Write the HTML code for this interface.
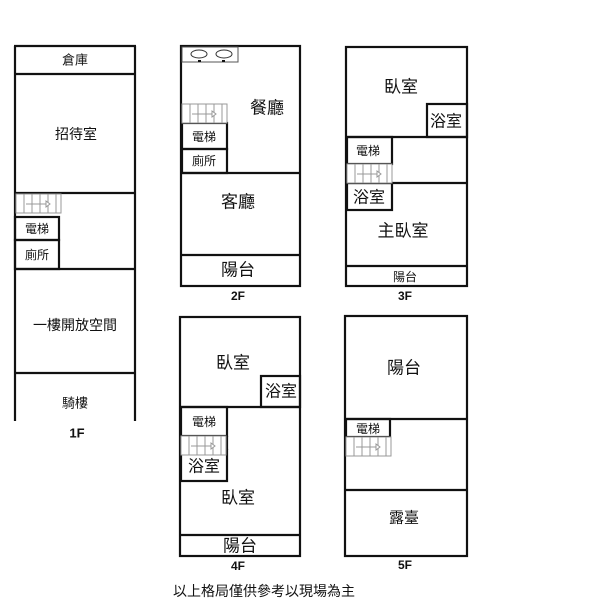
<!DOCTYPE html>
<html><head><meta charset="utf-8"><style>
html,body{margin:0;padding:0;background:#fff;width:600px;height:600px;overflow:hidden}
svg{display:block}
text{font-family:"Liberation Sans","Noto Sans CJK TC",sans-serif;fill:#111;text-anchor:middle;dominant-baseline:central}
.b{font-weight:bold}
</style></head><body>
<svg width="600" height="600" viewBox="0 0 600 600" xmlns="http://www.w3.org/2000/svg">
<defs>
<g id="st">
<rect x="0" y="0" width="45" height="19" fill="#fff" stroke="#999" stroke-width="1"/>
<g stroke="#999" stroke-width="1">
<line x1="8" y1="0" x2="8" y2="19"/><line x1="16" y1="0" x2="16" y2="19"/><line x1="24" y1="0" x2="24" y2="19"/><line x1="32" y1="0" x2="32" y2="19"/><line x1="40" y1="0" x2="40" y2="19"/>
<line x1="10" y1="10" x2="30" y2="10"/>
<polygon points="30,7 34,10 30,13" fill="#fff"/>
</g>
</g>
</defs>
<g fill="none" stroke="#111" stroke-width="2.2">
<!-- 1F -->
<line x1="15" y1="46" x2="15" y2="421"/><line x1="135" y1="46" x2="135" y2="421"/>
<line x1="14" y1="46" x2="136" y2="46"/><line x1="14" y1="74" x2="136" y2="74"/>
<line x1="14" y1="193" x2="136" y2="193"/>
<rect x="15" y="217" width="44" height="23"/><rect x="15" y="240" width="44" height="29"/>
<line x1="14" y1="269" x2="136" y2="269"/><line x1="14" y1="373" x2="136" y2="373"/>
<!-- 2F -->
<rect x="181" y="46" width="119" height="240"/>
<rect x="182" y="123" width="45" height="26"/><rect x="182" y="149" width="45" height="24"/>
<line x1="181" y1="173" x2="300" y2="173"/><line x1="181" y1="255" x2="300" y2="255"/>
<!-- 3F -->
<rect x="346" y="47" width="121" height="239"/>
<rect x="427" y="104" width="40" height="33"/>
<line x1="346" y1="137" x2="467" y2="137"/>
<rect x="347" y="137" width="45" height="27"/>
<line x1="346" y1="183" x2="467" y2="183"/>
<rect x="347" y="183" width="45" height="27"/>
<line x1="346" y1="266" x2="467" y2="266"/>
<!-- 4F -->
<rect x="180" y="317" width="120" height="239"/>
<rect x="261" y="376" width="39" height="31"/>
<line x1="180" y1="407" x2="300" y2="407"/>
<rect x="181" y="407" width="46" height="29"/>
<rect x="181" y="450" width="46" height="31"/>
<line x1="227" y1="436" x2="227" y2="450"/>
<line x1="180" y1="535" x2="300" y2="535"/>
<!-- 5F -->
<rect x="345" y="316" width="122" height="240"/>
<line x1="345" y1="419" x2="467" y2="419"/>
<rect x="346" y="419" width="44" height="18"/>
<line x1="345" y1="490" x2="467" y2="490"/>
</g>
<!-- stairs -->
<use href="#st" x="16" y="194"/>
<use href="#st" x="182" y="104"/>
<use href="#st" x="347" y="164"/>
<use href="#st" x="181" y="436" transform="translate(0,0)"/>
<use href="#st" x="346" y="437" transform="translate(0,0)"/>
<!-- stove -->
<rect x="182" y="47" width="56" height="15" fill="#fff" stroke="#555" stroke-width="1"/>
<g fill="none" stroke="#333" stroke-width="1">
<ellipse cx="199" cy="54" rx="8" ry="4"/><ellipse cx="224" cy="54" rx="8" ry="4"/>
</g>
<rect x="198" y="60" width="3" height="2" fill="#111"/><rect x="222" y="60" width="3" height="2" fill="#111"/>
<!-- labels -->
<text x="75" y="60" font-size="13">倉庫</text>
<text x="76" y="134" font-size="14">招待室</text>
<text x="37" y="229" font-size="12">電梯</text>
<text x="37" y="255" font-size="12">廁所</text>
<text x="75" y="325" font-size="14">一樓開放空間</text>
<text x="75" y="403" font-size="13">騎樓</text>
<text x="77" y="433" font-size="13" class="b">1F</text>

<text x="267" y="108" font-size="17">餐廳</text>
<text x="204" y="137" font-size="12">電梯</text>
<text x="204" y="161" font-size="12">廁所</text>
<text x="238" y="202" font-size="17">客廳</text>
<text x="238" y="270" font-size="17">陽台</text>
<text x="238" y="296" font-size="12" class="b">2F</text>

<text x="401" y="87" font-size="17">臥室</text>
<text x="446" y="122" font-size="16">浴室</text>
<text x="368" y="151" font-size="12">電梯</text>
<text x="369" y="198" font-size="16">浴室</text>
<text x="403" y="231" font-size="17">主臥室</text>
<text x="405" y="277" font-size="12">陽台</text>
<text x="405" y="296" font-size="12" class="b">3F</text>

<text x="233" y="363" font-size="17">臥室</text>
<text x="281" y="392" font-size="16">浴室</text>
<text x="204" y="422" font-size="12">電梯</text>
<text x="204" y="467" font-size="16">浴室</text>
<text x="238" y="498" font-size="17">臥室</text>
<text x="240" y="546" font-size="17">陽台</text>
<text x="238" y="566" font-size="12" class="b">4F</text>

<text x="404" y="368" font-size="17">陽台</text>
<text x="368" y="429" font-size="12">電梯</text>
<text x="404" y="518" font-size="15">露臺</text>
<text x="405" y="565" font-size="12" class="b">5F</text>

<text x="264" y="591" font-size="14">以上格局僅供參考以現場為主</text>
</svg>
</body></html>
